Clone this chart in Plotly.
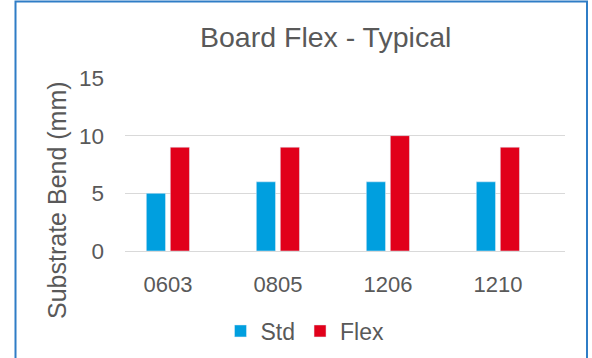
import plotly.graph_objects as go

categories = ["0603", "0805", "1206", "1210"]
std_values = [5, 6, 6, 6]
flex_values = [9, 9, 10, 9]
y_ticks = [0, 5, 10, 15]

W, H = 592, 358
L, R, T, B = 125, 27, 78, 107
pw, ph = W - L - R, H - T - B

def px_x(x):
    return (x - L) / pw

def px_y(y):
    return (H - B - y) / ph

FONT = "Liberation Sans, Arial, sans-serif"
GREY = "#595959"

fig = go.Figure()
fig.add_trace(go.Bar(name="Std", x=categories, y=std_values, marker_color="#009FDF"))
fig.add_trace(go.Bar(name="Flex", x=categories, y=flex_values, marker_color="#E1001A"))

fig.update_layout(
    width=W, height=H,
    margin=dict(l=L, r=R, t=T, b=B, autoexpand=False),
    paper_bgcolor="white", plot_bgcolor="white",
    barmode="group", bargap=0.564, bargroupgap=0.2,
    font=dict(family=FONT, color=GREY, size=22),
    showlegend=True,
    legend=dict(orientation="h", x=px_x(305), xanchor="center", y=px_y(331), yanchor="middle",
                font=dict(size=23, color=GREY), itemwidth=30, tracegroupgap=0),
    xaxis=dict(range=[-0.39, 3.61], showgrid=False, showline=False, zeroline=False,
               tickfont=dict(size=22, color=GREY), ticklabelstandoff=18),
    yaxis=dict(range=[0, 15], tickvals=y_ticks, showgrid=True, gridcolor="#D9D9D9", gridwidth=1.3,
               zeroline=True, zerolinecolor="#D9D9D9", zerolinewidth=1.3, showline=False,
               tickfont=dict(size=22.5, color=GREY), ticklabelstandoff=20),
)

fig.add_annotation(text="Board Flex - Typical", xref="paper", yref="paper",
                   x=px_x(325), y=px_y(37), xanchor="center", yanchor="middle",
                   showarrow=False, font=dict(size=28.5, color=GREY, family=FONT))
fig.add_annotation(text="Substrate Bend (mm)", xref="paper", yref="paper",
                   x=px_x(57), y=px_y(200), xanchor="center", yanchor="middle", textangle=-90,
                   showarrow=False, font=dict(size=25, color=GREY, family=FONT))

fig.add_shape(type="rect", xref="paper", yref="paper",
              x0=px_x(15.5), x1=px_x(587), y0=px_y(366), y1=px_y(1.5),
              line=dict(color="#2F7DC6", width=2), fillcolor="rgba(0,0,0,0)", layer="above")

fig.write_html("out.html")
